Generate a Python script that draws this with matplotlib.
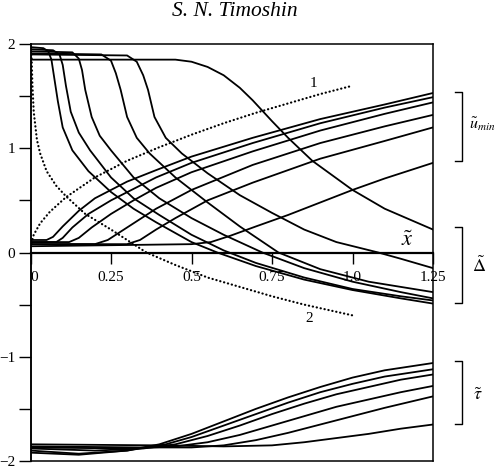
import matplotlib
matplotlib.use("Agg")
import matplotlib.pyplot as plt
from matplotlib.lines import Line2D

plt.rcParams['font.family'] = ['Liberation Serif', 'DejaVu Serif']
plt.rcParams['mathtext.fontset'] = 'stix'

# ---------------- data ----------------
# displacement curves (Delta), decreasing
delta_a_x = [0.0, 0.04, 0.055, 0.065, 0.075, 0.085, 0.1, 0.13, 0.18, 0.25, 0.32, 0.39, 0.5, 0.58, 0.7, 0.85, 1.0, 1.15, 1.25]
delta_a_y = [1.97, 1.96, 1.93, 1.85, 1.65, 1.45, 1.2, 0.98, 0.78, 0.58, 0.42, 0.29, 0.1, 0.0, -0.13, -0.26, -0.36, -0.44, -0.49]
delta_b_x = [0.0, 0.07, 0.09, 0.1, 0.11, 0.125, 0.15, 0.185, 0.25, 0.32, 0.4, 0.5, 0.6, 0.7, 0.85, 1.0, 1.15, 1.25]
delta_b_y = [1.95, 1.94, 1.9, 1.8, 1.6, 1.35, 1.15, 0.98, 0.72, 0.52, 0.36, 0.17, 0.02, -0.1, -0.24, -0.35, -0.42, -0.46]
delta_c_x = [0.0, 0.13, 0.15, 0.16, 0.17, 0.19, 0.215, 0.25, 0.32, 0.4, 0.5, 0.6, 0.72, 0.85, 1.0, 1.15, 1.25]
delta_c_y = [1.93, 1.92, 1.86, 1.75, 1.56, 1.3, 1.12, 0.98, 0.72, 0.52, 0.33, 0.17, 0.0, -0.15, -0.28, -0.38, -0.44]
delta_d_x = [0.0, 0.22, 0.25, 0.265, 0.28, 0.3, 0.33, 0.37, 0.45, 0.55, 0.65, 0.77, 0.9, 1.05, 1.25]
delta_d_y = [1.91, 1.9, 1.84, 1.72, 1.56, 1.3, 1.1, 0.95, 0.72, 0.48, 0.25, 0.0, -0.16, -0.28, -0.38]
delta_e_x = [0.0, 0.3, 0.33, 0.35, 0.365, 0.385, 0.42, 0.47, 0.55, 0.65, 0.75, 0.85, 0.95, 1.08, 1.15, 1.25]
delta_e_y = [1.9, 1.89, 1.83, 1.7, 1.56, 1.3, 1.1, 0.95, 0.76, 0.55, 0.38, 0.22, 0.1, 0.0, -0.06, -0.15]
delta_f_x = [0.0, 0.45, 0.5, 0.55, 0.6, 0.65, 0.69, 0.75, 0.8, 0.875, 1.0, 1.1, 1.25]
delta_f_y = [1.85, 1.85, 1.83, 1.78, 1.7, 1.58, 1.46, 1.26, 1.1, 0.88, 0.6, 0.42, 0.22]

# minimum velocity curves (u_min), increasing
umin_a_x = [0.0, 0.05, 0.07, 0.1, 0.15, 0.2, 0.3, 0.39, 0.5, 0.69, 0.9, 1.1, 1.25]
umin_a_y = [0.12, 0.12, 0.15, 0.25, 0.4, 0.52, 0.68, 0.79, 0.92, 1.1, 1.28, 1.42, 1.53]
umin_b_x = [0.0, 0.08, 0.1, 0.13, 0.18, 0.25, 0.39, 0.5, 0.69, 0.9, 1.1, 1.25]
umin_b_y = [0.1, 0.1, 0.14, 0.24, 0.37, 0.5, 0.72, 0.86, 1.05, 1.24, 1.39, 1.49]
umin_c_x = [0.0, 0.12, 0.15, 0.19, 0.25, 0.32, 0.39, 0.5, 0.69, 0.9, 1.1, 1.25]
umin_c_y = [0.1, 0.1, 0.14, 0.24, 0.37, 0.5, 0.62, 0.77, 0.97, 1.17, 1.33, 1.44]
umin_d_x = [0.0, 0.2, 0.24, 0.3, 0.39, 0.5, 0.69, 0.9, 1.1, 1.25]
umin_d_y = [0.08, 0.08, 0.12, 0.24, 0.42, 0.6, 0.84, 1.05, 1.21, 1.32]
umin_e_x = [0.0, 0.3, 0.34, 0.39, 0.45, 0.55, 0.69, 0.9, 1.1, 1.25]
umin_e_y = [0.08, 0.08, 0.12, 0.22, 0.33, 0.5, 0.67, 0.9, 1.07, 1.2]
umin_f_x = [0.0, 0.5, 0.56, 0.62, 0.7, 0.8, 0.9, 1.0, 1.1, 1.25]
umin_f_y = [0.06, 0.08, 0.1, 0.16, 0.25, 0.36, 0.48, 0.6, 0.71, 0.86]

# skin friction curves (tau)
tau_a_x = [0.0, 0.15, 0.3, 0.4, 0.5, 0.6, 0.7, 0.8, 0.9, 1.0, 1.1, 1.25]
tau_a_y = [-1.92, -1.94, -1.9, -1.84, -1.74, -1.62, -1.5, -1.39, -1.29, -1.2, -1.13, -1.06]
tau_b_x = [0.0, 0.15, 0.3, 0.42, 0.5, 0.6, 0.7, 0.8, 0.9, 1.0, 1.1, 1.25]
tau_b_y = [-1.9, -1.93, -1.9, -1.84, -1.77, -1.66, -1.55, -1.44, -1.34, -1.26, -1.19, -1.12]
tau_c_x = [0.0, 0.2, 0.35, 0.45, 0.55, 0.65, 0.75, 0.85, 0.95, 1.05, 1.15, 1.25]
tau_c_y = [-1.88, -1.9, -1.88, -1.84, -1.76, -1.66, -1.55, -1.45, -1.36, -1.29, -1.22, -1.17]
tau_d_x = [0.0, 0.3, 0.45, 0.55, 0.65, 0.75, 0.85, 0.95, 1.05, 1.15, 1.25]
tau_d_y = [-1.87, -1.88, -1.86, -1.82, -1.75, -1.66, -1.57, -1.48, -1.41, -1.34, -1.28]
tau_e_x = [0.0, 0.35, 0.5, 0.6, 0.7, 0.8, 0.9, 1.0, 1.1, 1.25]
tau_e_y = [-1.86, -1.87, -1.87, -1.85, -1.8, -1.73, -1.65, -1.57, -1.49, -1.38]
tau_f_x = [0.0, 0.4, 0.6, 0.75, 0.85, 0.95, 1.05, 1.15, 1.25]
tau_f_y = [-1.84, -1.85, -1.86, -1.85, -1.82, -1.78, -1.74, -1.69, -1.65]

# dotted reference curves 1 and 2
dot1_x = [0.003, 0.01, 0.03, 0.06, 0.11, 0.2, 0.3, 0.4, 0.5, 0.6, 0.7, 0.8, 0.9, 1.0]
dot1_y = [0.09, 0.17, 0.28, 0.39, 0.53, 0.72, 0.88, 1.01, 1.13, 1.24, 1.34, 1.43, 1.52, 1.6]
dot2_x = [0.003, 0.006, 0.01, 0.02, 0.03, 0.05, 0.08, 0.11, 0.17, 0.25, 0.36, 0.45, 0.55, 0.65, 0.75, 0.85, 1.01]
dot2_y = [1.9, 1.6, 1.35, 1.08, 0.95, 0.78, 0.64, 0.54, 0.37, 0.22, 0.0, -0.12, -0.24, -0.33, -0.42, -0.5, -0.61]

x_ticks = [0, 0.25, 0.5, 0.75, 1.0, 1.25]
x_tick_labels = ['0', '0.25', '0.5', '0.75', '1.0', '1.25']
y_ticks = [-2, -1.5, -1, -0.5, 0, 0.5, 1, 1.5, 2]
y_tick_labels = ['\u22122', '', '\u22121', '', '0', '', '1', '', '2']

solid_curves = [
    (delta_a_x, delta_a_y), (delta_b_x, delta_b_y), (delta_c_x, delta_c_y),
    (delta_d_x, delta_d_y), (delta_e_x, delta_e_y), (delta_f_x, delta_f_y),
    (umin_a_x, umin_a_y), (umin_b_x, umin_b_y), (umin_c_x, umin_c_y),
    (umin_d_x, umin_d_y), (umin_e_x, umin_e_y), (umin_f_x, umin_f_y),
    (tau_a_x, tau_a_y), (tau_b_x, tau_b_y), (tau_c_x, tau_c_y),
    (tau_d_x, tau_d_y), (tau_e_x, tau_e_y), (tau_f_x, tau_f_y),
]

# ---------------- figure ----------------
W, H = 495, 468
fig = plt.figure(figsize=(W / 100, H / 100), dpi=100)
rect = [30.5 / W, 1 - 461 / H, (433 - 30.5) / W, (461 - 44) / H]

frame = fig.add_axes(rect, zorder=0)
frame.set_xticks([])
frame.set_yticks([])
for s in frame.spines.values():
    s.set_linewidth(1.1)

ax = fig.add_axes(rect, zorder=1)
ax.patch.set_visible(False)
ax.set_xlim(0, 1.25)
ax.set_ylim(-2, 2)

for xs, ys in solid_curves:
    ax.plot(xs, ys, color='black', lw=1.3, solid_capstyle='round')

for xs, ys in [(dot1_x, dot1_y), (dot2_x, dot2_y)]:
    ax.plot(xs, ys, color='black', lw=1.6, linestyle=(0, (0.1, 1.7)),
            dash_capstyle='round')

# axes styling
for side in ['top', 'right']:
    ax.spines[side].set_visible(False)
ax.spines['left'].set_linewidth(1.1)
ax.spines['bottom'].set_position(('data', 0))
ax.spines['bottom'].set_linewidth(1.6)

ax.set_xticks(x_ticks)
ax.set_xticklabels(x_tick_labels)
ax.set_yticks(y_ticks)
ax.set_yticklabels(y_tick_labels)
ax.tick_params(axis='x', direction='out', length=8, width=1.0, pad=5, labelsize=11)
ax.tick_params(axis='y', direction='out', length=9, width=1.0, pad=2, labelsize=11)
ax.get_xticklabels()[0].set_horizontalalignment('left')

ax.text(1.17, 0.11, r'$\tilde{x}$', fontsize=16, ha='center', va='center')
ax.text(0.88, 1.62, '1', fontsize=11, ha='center', va='center')
ax.text(0.866, -0.63, '2', fontsize=11, ha='center', va='center')

fig.text(235 / W, 1 - 12 / H, 'S. N. Timoshin', fontsize=15.5, style='italic',
         ha='center', va='center')

# right-hand brackets with labels
def bracket(top_px, bot_px, x_px=462, arm=7):
    xs = [(x_px - arm) / W, x_px / W, x_px / W, (x_px - arm) / W]
    ys = [1 - top_px / H, 1 - top_px / H, 1 - bot_px / H, 1 - bot_px / H]
    fig.add_artist(Line2D(xs, ys, color='black', lw=1.0, transform=fig.transFigure))

bracket(92, 161)
bracket(227, 303)
bracket(361, 424)
fig.text(469 / W, 1 - 124 / H, r'$\tilde{u}_{min}$', fontsize=11.5, ha='left', va='center')
fig.text(472 / W, 1 - 266 / H, r'$\tilde{\mathit{\Delta}}$', fontsize=13, ha='left', va='center')
fig.text(473 / W, 1 - 395 / H, r'$\tilde{\tau}$', fontsize=13, ha='left', va='center')

fig.savefig('out.png', dpi=100)
